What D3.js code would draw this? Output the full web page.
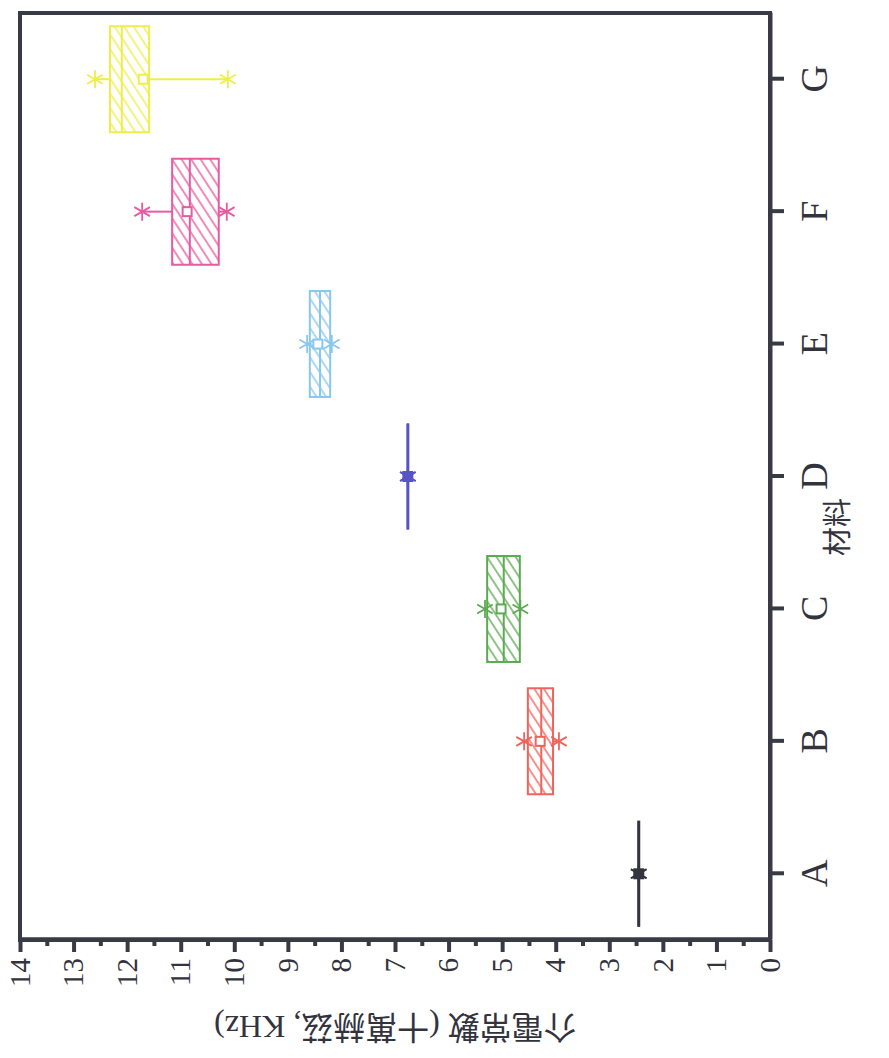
<!DOCTYPE html>
<html>
<head>
<meta charset="utf-8">
<script src="https://cdn.jsdelivr.net/npm/d3@7"></script>
<style>
  body { margin: 0; background: #fff; }
  text { fill: #33333d; }
</style>
</head>
<body>
<div id="chart"></div>
<script>
var categories = ["A", "B", "C", "D", "E", "F", "G"];
var boxLow      = [2.45, 4.05, 4.67, 6.76, 8.21, 10.29, 11.59];
var boxHigh     = [2.45, 4.52, 5.28, 6.76, 8.59, 11.16, 12.32];
var medians     = [2.45, 4.27, 4.97, 6.76, 8.40, 10.83, 12.10];
var means       = [2.45, 4.29, 5.02, 6.76, 8.44, 10.88, 11.70];
var whiskerLow  = [2.45, 3.94, 4.66, 6.76, 8.18, 10.14, 10.12];
var whiskerHigh = [2.45, 4.59, 5.32, 6.76, 8.64, 11.72, 12.60];
var colors = ["#34343f", "#f0645c", "#5cab52", "#5555c6", "#88c8ef", "#ea5aa0", "#eeee48"];
var valueTicks = d3.range(0, 15);
var xTitle = "材料", yTitle = "介電常數 (十萬赫茲, KHz)";

var width = 889, height = 1058;
// chart is drawn upright, then turned a quarter to the left
var W = 927, H = 750;

var svg = d3.select('#chart').append('svg').attr('width', width).attr('height', height);
var defs = svg.append('defs');
var g = svg.append('g').attr('transform', 'translate(20,940) rotate(-90)');

var x = d3.scalePoint().domain(categories).range([0, W]).padding(0.5);
var y = d3.scaleLinear().domain([0, 14]).range([H, 0]);
var boxW = 106;

categories.forEach(function(c, i) {
  var p = defs.append('pattern').attr('id', 'hatch' + i).attr('patternUnits', 'userSpaceOnUse')
    .attr('width', 8).attr('height', 8).attr('patternTransform', 'rotate(57)');
  p.append('rect').attr('width', 8).attr('height', 8).attr('fill', '#fff');
  p.append('line').attr('x1', 4).attr('x2', 4).attr('y1', 0).attr('y2', 8)
    .attr('stroke', colors[i]).attr('stroke-width', 1.4);
});

var star = function(r) {
  var a = r * Math.sin(Math.PI / 3), b = r * Math.cos(Math.PI / 3);
  return 'M' + (-r) + ',0L' + r + ',0M' + (-b) + ',' + (-a) + 'L' + b + ',' + a + 'M' + b + ',' + (-a) + 'L' + (-b) + ',' + a;
};

var box = g.selectAll('.box').data(categories).enter().append('g').attr('class', 'box')
  .attr('transform', function(d) { return 'translate(' + x(d) + ',0)'; });

box.append('line').attr('y1', function(d, i) { return y(boxHigh[i]); }).attr('y2', function(d, i) { return y(whiskerHigh[i]); })
  .attr('stroke', function(d, i) { return colors[i]; }).attr('stroke-width', 2);
box.append('line').attr('y1', function(d, i) { return y(boxLow[i]); }).attr('y2', function(d, i) { return y(whiskerLow[i]); })
  .attr('stroke', function(d, i) { return colors[i]; }).attr('stroke-width', 2);

box.append('path').attr('d', function(d, i) {
  var y0 = y(boxHigh[i]), y1 = y(boxLow[i]);
  return 'M' + (-boxW / 2) + ',' + y0 + 'H' + (boxW / 2) + 'V' + y1 + 'H' + (-boxW / 2) + 'Z';
}).attr('fill', function(d, i) { return 'url(#hatch' + i + ')'; })
  .attr('stroke', function(d, i) { return colors[i]; })
  .attr('stroke-width', function(d, i) { return boxHigh[i] === boxLow[i] ? 3 : 2; });

box.append('line').attr('x1', -boxW / 2).attr('x2', boxW / 2)
  .attr('y1', function(d, i) { return y(medians[i]); }).attr('y2', function(d, i) { return y(medians[i]); })
  .attr('stroke', function(d, i) { return colors[i]; }).attr('stroke-width', 2);

[whiskerLow, whiskerHigh].forEach(function(arr) {
  box.append('path').attr('d', star(9))
    .attr('transform', function(d, i) { return 'translate(0,' + y(arr[i]) + ')'; })
    .attr('stroke', function(d, i) { return colors[i]; }).attr('stroke-width', 1.8).attr('fill', 'none');
});

box.append('rect').attr('x', -4.5).attr('width', 9).attr('height', 9)
  .attr('y', function(d, i) { return y(means[i]) - 4.5; })
  .attr('fill', function(d, i) { return boxHigh[i] === boxLow[i] ? colors[i] : '#fff'; })
  .attr('stroke', function(d, i) { return colors[i]; }).attr('stroke-width', 2);

// frame
g.append('rect').attr('width', W).attr('height', H).attr('fill', 'none')
  .attr('stroke', '#3a3a46').attr('stroke-width', 4);

var xAxis = g.append('g').attr('transform', 'translate(0,' + H + ')')
  .call(d3.axisBottom(x).tickSize(14).tickSizeOuter(0).tickPadding(16));
var yMinor = g.append('g')
  .call(d3.axisLeft(y).tickValues(d3.range(0.5, 14, 1)).tickSize(6).tickFormat('').tickSizeOuter(0));
var yAxis = g.append('g')
  .call(d3.axisLeft(y).tickValues(valueTicks).tickSize(12).tickSizeOuter(0).tickPadding(6));

[xAxis, yMinor, yAxis].forEach(function(a) {
  a.select('.domain').attr('stroke', '#3a3a46').attr('stroke-width', 4);
  a.selectAll('.tick line').attr('stroke', '#3a3a46').attr('stroke-width', 4);
});
xAxis.selectAll('text').style('font-family', '"Liberation Serif", serif').style('font-size', '38px').attr('fill', '#33333d');
yAxis.selectAll('text').style('font-family', '"Liberation Serif", serif').style('font-size', '29px').attr('fill', '#33333d');

g.append('text').attr('x', 413).attr('y', H + 68).attr('text-anchor', 'middle').attr('dominant-baseline', 'central')
  .style('font-family', '"Liberation Serif", "Noto Sans CJK TC", serif').style('font-size', '29px').text(xTitle);
g.append('text').attr('transform', 'translate(-87,' + (H / 2) + ') rotate(-90)')
  .attr('text-anchor', 'middle').attr('dominant-baseline', 'central')
  .style('font-family', '"Liberation Serif", "Noto Sans CJK TC", serif').style('font-size', '32px').text(yTitle);
</script>
</body>
</html>
